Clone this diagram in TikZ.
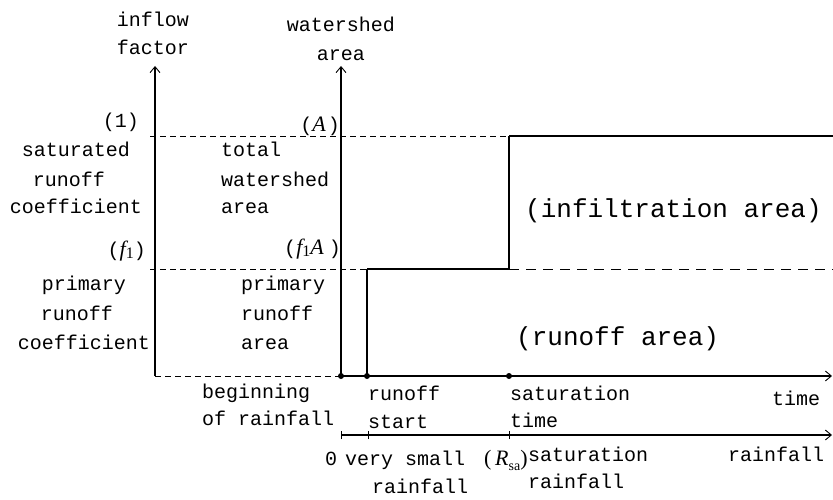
\documentclass[tikz,border=0pt]{standalone}
\usepackage{fontspec}
\setmainfont{Liberation Mono}
\newfontfamily\serifit{Liberation Serif}
\usetikzlibrary{arrows.meta}
\newcommand{\fit}{{\serifit\itshape\fontsize{22}{24}\selectfont f}}
\newcommand{\Ait}{{\serifit\itshape\fontsize{22}{24}\selectfont A}}
\newcommand{\Rit}{{\serifit\itshape\fontsize{22}{24}\selectfont R}}
\newcommand{\subone}{\raisebox{-2pt}{\serifit\fontsize{16}{16}\selectfont 1}}
\begin{document}
\begin{tikzpicture}[x=1pt,y=-1pt,
  lbl/.style={inner sep=0pt,font=\fontsize{20}{24}\selectfont},
  biglbl/.style={inner sep=0pt,font=\fontsize{26}{31}\selectfont},
  axisline/.style={line width=1.1pt,-{Straight Barb[length=6pt,width=10pt,line width=0.9pt]}},
  stepline/.style={line width=1.6pt},
  shortdash/.style={line width=0.8pt,dash pattern=on 6pt off 4pt},
  longdash/.style={line width=0.8pt,dash pattern=on 10pt off 7pt},
  dotmark/.style={circle,fill=black,inner sep=0pt,minimum size=6pt},
  tickmark/.style={line width=0.8pt}]
\useasboundingbox (0,0) rectangle (833,500);

% coordinates
\coordinate (L0) at (155,376);
\coordinate (Ltop) at (155,66);
\coordinate (R0) at (341,376);
\coordinate (Rtop) at (341,66);
\coordinate (Tl) at (150,136);
\coordinate (Tm) at (509,136);
\coordinate (Tr) at (833,136);
\coordinate (Ml) at (150,269);
\coordinate (Ma) at (367,269);
\coordinate (Mb) at (509,269);
\coordinate (Mr) at (833,269);
\coordinate (Bstart) at (367,376);
\coordinate (Bend) at (832,376);
\coordinate (Rn0) at (341,435);
\coordinate (Rn1) at (368,435);
\coordinate (Rn2) at (509,435);
\coordinate (Rnend) at (832,435);

% axes
\draw[axisline] (L0) -- (Ltop);
\draw[axisline] (R0) -- (Rtop);
\draw[axisline] (R0) -- (Bend);
\draw[axisline] (Rn0) -- (Rnend);
\draw[shortdash] (L0) -- (R0);

% levels
\draw[shortdash] (Tl) -- (Tm);
\draw[stepline] (Tm) -- (Tr);
\draw[shortdash] (Ml) -- (Ma);
\draw[stepline] (Ma) -- (Mb);
\draw[longdash] (Mb) -- (Mr);
\draw[stepline] (Bstart) -- (Ma);
\draw[stepline] (Mb) -- (Tm);
\draw[tickmark] (150,136) -- (155,136);
\draw[tickmark] (150,269) -- (155,269);

% dots
\node[dotmark] (d0) at (R0) {};
\node[dotmark] (d1) at (Bstart) {};
\node[dotmark] (d2) at (509,376) {};

% ticks on rainfall axis
\draw[tickmark] ([yshift=-4pt]Rn0) -- ([yshift=4pt]Rn0);
\draw[tickmark] ([yshift=-4pt]Rn1) -- ([yshift=4pt]Rn1);
\draw[tickmark] ([yshift=-4pt]Rn2) -- ([yshift=4pt]Rn2);

% axis titles
\node[lbl,anchor=base] (inflowA) at (153,27) {inflow};
\node[lbl,anchor=base] (inflowB) at (153,55) {factor};
\node[lbl,anchor=base] (wsA) at (341,32) {watershed};
\node[lbl,anchor=base] (wsB) at (341,61) {area};

% upper left labels
\node[lbl,anchor=base east] (one) at (139,128) {(1)};
\node[lbl,anchor=base] (satA) at (76,157) {saturated};
\node[lbl,anchor=base] (satB) at (69,186) {runoff};
\node[lbl,anchor=base] (satC) at (76,214) {coefficient};
\node[lbl,anchor=base west] (totA) at (221,157) {total};
\node[lbl,anchor=base west] (totB) at (221,186) {watershed};
\node[lbl,anchor=base west] (totC) at (221,214) {area};
\node[lbl,anchor=base east] (Alab) at (340,132) {(\Ait\kern5pt\kern-3pt)};

% lower left labels
\node[lbl,anchor=base east] (f1lab) at (146,256) {(\fit\subone)};
\node[lbl,anchor=base east] (f1Alab) at (341,254) {(\fit\subone\Ait\kern5pt)};
\node[lbl,anchor=base] (priA) at (84,290) {primary};
\node[lbl,anchor=base] (priB) at (77,320) {runoff};
\node[lbl,anchor=base] (priC) at (84,349) {coefficient};
\node[lbl,anchor=base west] (praA) at (241,290) {primary};
\node[lbl,anchor=base west] (praB) at (241,320) {runoff};
\node[lbl,anchor=base west] (praC) at (241,349) {area};

% time axis labels
\node[lbl,anchor=base west] (begA) at (202,398) {beginning};
\node[lbl,anchor=base west] (begB) at (202,425) {of rainfall};
\node[lbl,anchor=base west] (rsA) at (368,400) {runoff};
\node[lbl,anchor=base west] (rsB) at (368,428) {start};
\node[lbl,anchor=base west] (stA) at (510,400) {saturation};
\node[lbl,anchor=base west] (stB) at (510,427) {time};
\node[lbl,anchor=base west] (timelab) at (772,405) {time};

% rainfall axis labels
\node[lbl,anchor=base west] (zero) at (325,465) {0};
\node[lbl,anchor=base west] (vsA) at (345,465) {very small};
\node[lbl,anchor=base west] (vsB) at (372,493) {rainfall};
\node[lbl,anchor=base west] (Rsa) at (484,465) {{\serifit\fontsize{22}{24}\selectfont(\,}\Rit\raisebox{-5pt}{\serifit\fontsize{14}{14}\selectfont sa}{\serifit\fontsize{22}{24}\selectfont)}};
\node[lbl,anchor=base west] (srA) at (528,461) {saturation};
\node[lbl,anchor=base west] (srB) at (528,488) {rainfall};
\node[lbl,anchor=base west] (rainlab) at (728,461) {rainfall};

% area labels
\node[biglbl,anchor=base west] (infil) at (525,218) {(infiltration area)};
\node[biglbl,anchor=base west] (runoffarea) at (516,345) {(runoff area)};
\end{tikzpicture}
\end{document}
